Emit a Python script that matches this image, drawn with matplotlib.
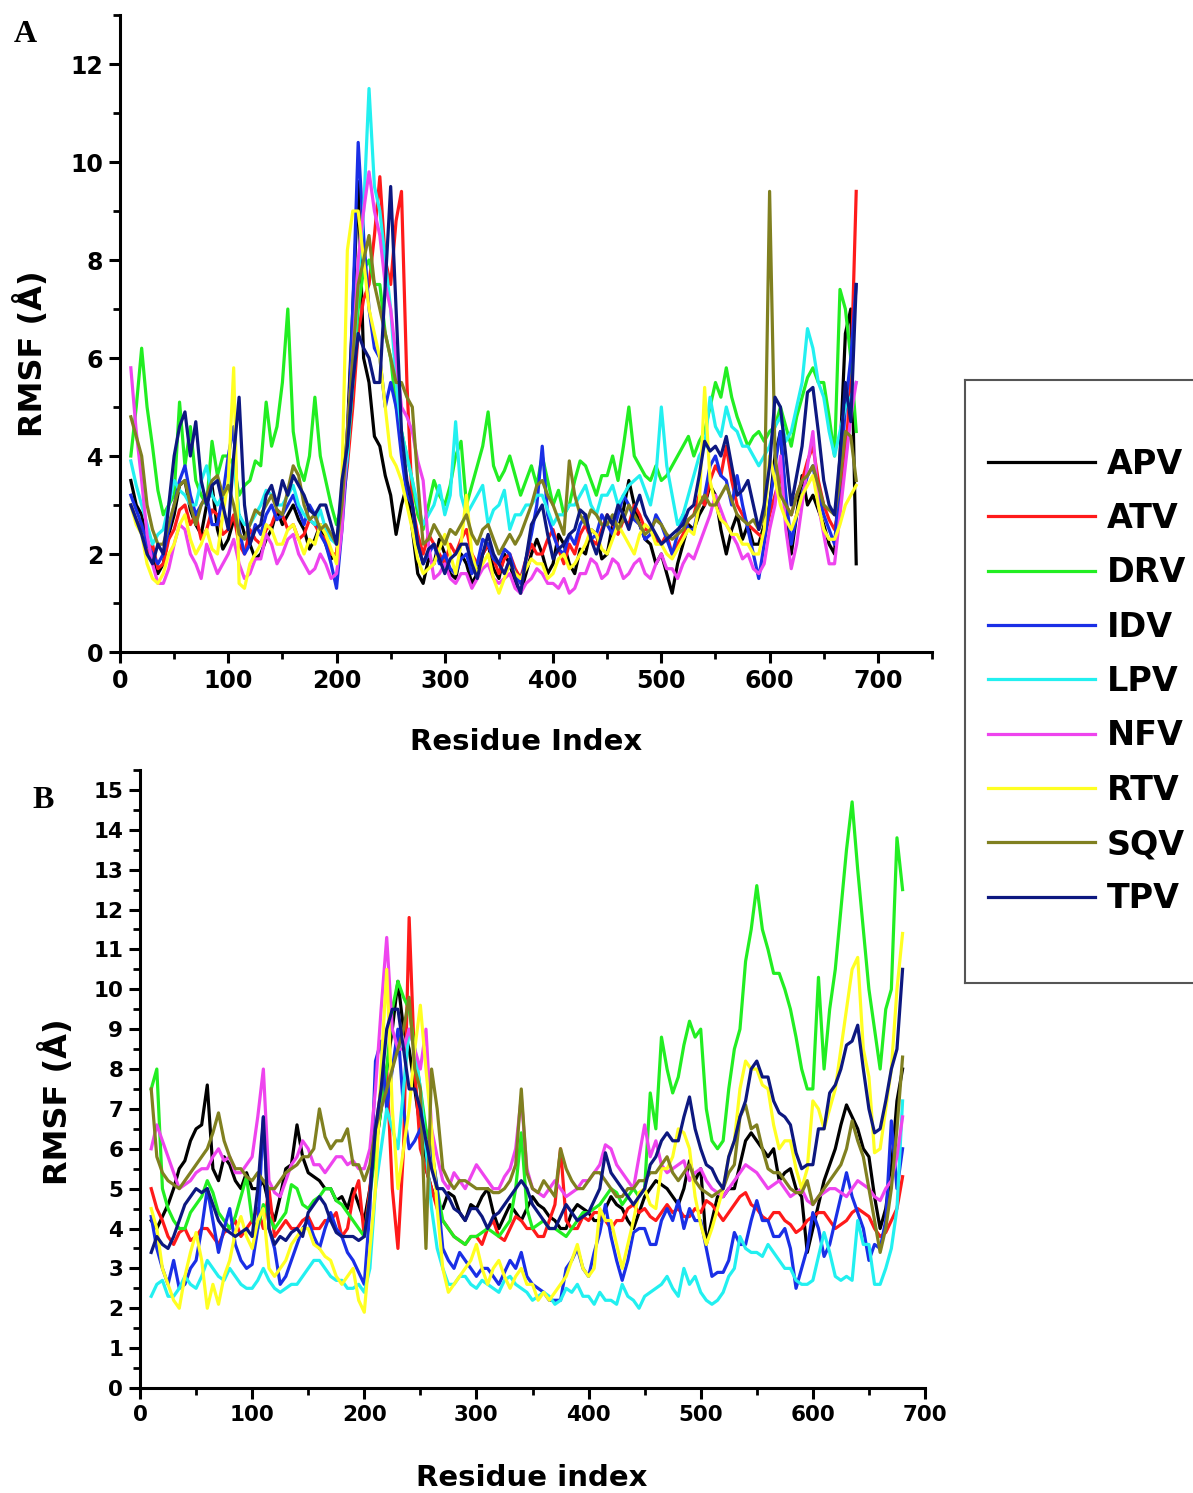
import numpy as np
import matplotlib
matplotlib.use("Agg")
import matplotlib.pyplot as plt
from matplotlib.ticker import MultipleLocator

plt.rcParams['font.family'] = ['DejaVu Sans']
plt.rcParams['font.weight'] = 'bold'

labels = ["APV", "ATV", "DRV", "IDV", "LPV", "NFV", "RTV", "SQV", "TPV"]
colors = ["#000000", "#ff1a1a", "#22ee22", "#1a2fe6", "#22f0f0",
          "#ee44ee", "#ffff22", "#808020", "#0d1880"]

residues = np.arange(10, 681, 5)   # 135 residue positions

# ---------------- Panel A (RMSF, Å) ----------------
A_APV = [3.5,3.0,2.8,2.2,2.0,1.6,1.8,2.4,2.8,3.4, 3.5,2.9,2.6,2.4,3.0,3.4,2.5,2.1,2.3,2.7,
         2.8,2.4,2.2,1.9,2.0,2.3,2.5,2.9,2.6,2.8, 3.0,2.7,2.5,2.1,2.3,2.6,2.2,1.9,2.0,2.8,
         4.5,7.0,9.6,6.0,5.5,4.4,4.2,3.6,3.2,2.4, 3.0,3.4,2.5,1.6,1.4,1.9,1.8,2.3,2.0,1.6,
         1.5,2.0,1.8,1.4,1.6,2.0,2.2,1.7,1.5,2.0, 1.8,1.4,1.2,1.6,2.0,2.3,2.0,1.6,1.8,2.4,
         2.2,1.8,1.6,2.1,2.0,2.5,2.4,1.9,2.0,2.6, 2.5,2.9,3.5,3.0,2.6,2.3,2.2,1.8,2.0,1.6,
         1.2,1.8,2.2,2.6,2.5,2.8,3.0,3.4,3.2,2.5, 2.0,2.5,2.8,2.3,2.6,2.2,2.2,2.6,3.0,4.0,
         4.5,3.0,2.0,2.8,3.6,3.0,3.2,2.9,2.6,2.2, 2.0,4.0,6.5,7.0,1.8]
A_ATV = [3.0,2.7,2.5,2.0,2.2,1.7,1.8,2.3,2.5,2.9, 3.0,2.6,2.8,2.3,2.5,2.9,2.8,2.4,2.5,2.8,
         2.2,2.0,2.5,2.3,2.2,2.5,2.6,2.9,2.8,2.5, 2.6,2.3,2.4,2.7,2.6,2.4,2.3,2.0,2.0,2.9,
         3.8,5.0,6.5,7.2,7.5,8.5,9.7,8.0,7.5,8.8, 9.4,5.5,3.0,2.4,2.0,2.4,2.2,2.0,1.8,2.2,
         2.0,2.3,2.5,2.0,1.8,2.0,2.2,1.9,1.6,1.9, 2.0,1.7,1.5,1.9,2.2,2.0,2.0,2.3,2.5,2.1,
         1.8,2.2,2.0,2.4,2.6,2.3,2.2,2.5,2.8,2.6, 2.4,2.7,2.6,3.0,2.8,2.5,2.5,2.3,2.2,2.4,
         2.0,2.2,2.4,2.7,2.8,3.2,3.0,3.5,3.8,3.6, 4.2,3.5,3.0,2.8,2.6,2.5,2.4,2.3,2.8,3.2,
         3.6,3.0,2.8,3.2,3.5,3.9,4.2,3.5,3.0,2.7, 2.5,3.0,4.0,5.5,9.4]
A_DRV = [4.0,5.0,6.2,5.0,4.2,3.3,2.8,3.0,3.2,5.1, 3.8,4.6,3.5,3.2,3.0,4.3,3.6,4.0,4.0,3.8,
         3.2,3.4,3.5,3.9,3.8,5.1,4.2,4.6,5.5,7.0, 4.5,3.8,3.5,4.0,5.2,4.0,3.5,3.0,2.6,3.0,
         4.0,5.5,7.0,7.8,8.0,7.5,7.5,6.5,6.0,5.0, 4.5,4.0,3.5,2.8,2.5,3.0,3.5,3.2,3.0,3.4,
         4.0,4.3,3.0,3.4,3.8,4.2,4.9,3.8,3.5,3.7, 4.0,3.6,3.2,3.5,3.8,3.4,4.0,3.5,3.0,3.3,
         2.8,3.0,3.5,3.9,3.8,3.5,3.2,3.6,3.6,4.0, 3.5,4.2,5.0,4.0,3.8,3.6,3.5,3.8,3.5,3.6,
         3.8,4.0,4.2,4.4,4.0,4.3,4.5,5.0,5.5,5.2, 5.8,5.2,4.8,4.5,4.2,4.4,4.5,4.3,4.5,4.6,
         5.0,4.6,4.2,4.8,5.2,5.6,5.8,5.5,5.5,4.8, 4.0,7.4,7.0,6.0,4.5]
A_IDV = [3.2,2.9,2.6,2.2,2.0,1.8,2.0,2.5,3.0,3.5, 3.8,3.2,2.8,3.0,3.2,2.6,2.6,3.2,4.0,4.6,
         2.5,2.0,2.2,2.6,2.4,2.8,3.0,2.7,2.8,3.0, 3.2,2.9,2.6,3.0,2.8,2.4,2.2,1.8,1.3,2.5,
         4.0,7.0,10.4,8.5,7.0,6.2,6.0,5.0,5.5,5.0, 4.0,3.2,3.0,2.2,1.8,2.0,2.2,1.8,2.0,1.7,
         1.6,1.9,2.0,1.6,1.8,2.3,2.2,1.9,1.8,2.1, 2.0,1.6,1.4,1.9,2.4,3.0,4.2,2.8,2.4,2.1,
         2.0,2.4,2.2,2.6,2.8,2.3,2.4,2.8,2.6,2.4, 2.8,3.2,3.0,2.7,2.6,2.3,2.4,2.8,2.6,2.3,
         2.0,2.4,2.8,2.5,2.5,3.0,3.2,3.8,4.0,3.6, 3.5,3.0,3.6,3.0,2.5,2.0,1.5,2.2,3.0,3.8,
         4.5,3.2,2.2,2.8,3.2,3.6,3.8,3.2,2.8,2.5, 2.2,3.5,5.0,6.0,7.5]
A_LPV = [3.9,3.4,3.0,2.6,2.2,2.4,2.5,3.0,3.5,3.3, 3.2,3.0,3.0,3.5,3.8,3.2,3.0,3.2,3.4,3.9,
         2.8,2.6,2.6,2.8,3.0,3.3,3.2,3.0,3.0,3.2, 3.4,3.0,2.8,2.7,2.6,2.9,2.5,2.3,2.2,3.0,
         4.0,5.5,7.5,9.0,11.5,9.5,9.0,8.0,7.0,5.5, 4.5,4.0,3.5,3.0,2.6,2.8,3.0,3.4,2.8,3.2,
         4.7,3.2,2.8,3.0,3.2,3.4,2.6,2.9,3.0,3.3, 2.5,2.8,2.8,3.0,3.0,3.2,3.2,2.9,2.6,2.8,
         2.8,3.0,3.0,3.2,3.4,3.0,2.8,3.2,3.2,3.4, 3.0,3.2,3.4,3.5,3.6,3.3,3.0,3.6,5.0,3.8,
         3.2,2.6,2.8,3.2,3.6,4.0,4.2,5.2,4.6,4.4, 5.0,4.6,4.5,4.2,4.2,4.0,3.8,4.0,4.2,4.6,
         4.8,4.3,4.5,5.0,5.5,6.6,6.2,5.5,5.2,4.5, 4.0,4.5,5.0,5.2,5.5]
A_NFV = [5.8,4.5,3.5,2.4,1.8,1.4,1.4,1.7,2.2,2.6, 2.5,2.0,1.8,1.5,2.2,1.9,1.6,1.8,2.0,2.3,
         1.8,1.5,1.6,1.9,1.9,2.4,2.2,1.8,2.0,2.3, 2.4,2.0,1.8,1.6,1.7,2.0,1.8,1.5,1.6,2.5,
         4.5,6.0,8.0,9.0,9.8,9.0,8.5,7.5,7.0,6.0, 5.0,4.8,4.5,3.9,3.5,2.2,1.5,1.6,1.8,1.5,
         1.4,1.6,1.6,1.3,1.5,1.7,1.8,1.5,1.4,1.5, 1.6,1.3,1.2,1.4,1.5,1.7,1.6,1.4,1.4,1.3,
         1.5,1.2,1.3,1.6,1.6,1.9,1.8,1.5,1.6,1.9, 1.8,1.5,1.6,1.8,1.9,1.6,1.5,1.8,2.0,1.7,
         1.7,1.5,1.8,2.0,1.9,2.2,2.5,2.8,3.2,2.9, 2.6,2.4,2.2,1.9,2.0,1.7,1.6,1.8,2.5,3.0,
         4.0,2.5,1.7,2.2,3.0,3.8,4.5,3.0,2.4,1.8, 1.8,2.8,3.8,4.8,5.5]
A_RTV = [3.0,2.6,2.4,1.8,1.5,1.4,1.6,2.0,2.2,2.6, 2.8,2.3,2.0,2.2,2.5,2.1,2.0,2.8,3.5,5.8,
         1.4,1.3,1.8,2.0,2.2,2.6,2.5,2.2,2.2,2.5, 2.6,2.3,2.0,2.3,2.2,2.6,2.4,2.1,1.8,3.5,
         8.2,9.0,9.0,8.0,7.0,6.5,6.0,5.0,4.0,3.8, 3.5,3.0,2.5,1.9,1.6,1.7,1.8,2.1,2.4,2.0,
         1.6,2.2,3.2,2.0,1.6,1.8,2.0,1.5,1.2,1.5, 1.8,1.6,1.5,1.7,1.9,1.8,1.8,1.5,1.6,1.9,
         2.0,1.7,1.8,2.0,2.2,2.5,2.4,2.1,2.0,2.3, 2.6,2.4,2.2,2.0,2.4,2.6,2.5,2.2,2.2,2.0,
         1.9,2.1,2.3,2.5,2.4,3.0,5.4,3.5,3.0,2.7, 2.6,2.4,2.4,2.2,2.2,2.0,2.0,2.5,4.0,3.5,
         3.0,2.7,2.5,2.8,3.2,3.4,3.6,3.0,2.5,2.3, 2.3,2.6,3.0,3.2,3.4]
A_SQV = [4.8,4.4,4.0,3.0,2.5,2.2,2.2,2.6,3.0,3.4, 3.5,3.0,2.6,3.0,3.2,3.5,3.6,3.2,3.4,3.0,
         2.4,2.3,2.6,2.9,2.8,3.0,3.2,2.9,2.8,3.3, 3.8,3.6,3.0,2.7,2.8,2.5,2.6,2.4,2.2,3.0,
         4.5,6.0,7.5,8.0,8.5,7.5,7.0,6.5,6.0,5.5, 5.5,5.2,5.0,3.5,2.2,2.3,2.6,2.4,2.2,2.5,
         2.4,2.6,2.8,2.4,2.2,2.5,2.6,2.3,2.0,2.2, 2.4,2.2,2.4,2.7,3.0,3.4,3.5,3.2,3.0,2.7,
         2.4,3.9,3.2,2.8,2.6,2.9,2.8,2.6,2.6,2.8, 2.5,2.7,3.0,2.8,2.6,2.4,2.5,2.7,2.6,2.4,
         2.3,2.4,2.5,2.7,2.8,3.0,3.2,3.0,3.0,3.2, 3.4,3.1,2.8,2.7,2.6,2.7,2.5,2.8,9.4,4.0,
         3.2,3.0,2.8,3.2,3.5,3.6,3.8,3.4,3.0,2.9, 2.8,3.5,4.5,4.4,3.5]
A_TPV = [3.0,2.7,2.4,2.0,1.8,2.2,2.0,3.0,4.0,4.6, 4.9,4.0,4.7,3.5,3.0,3.4,3.5,3.0,2.5,4.0,
         5.2,3.0,2.2,2.5,2.6,3.2,3.4,3.0,3.5,3.2, 3.6,3.4,3.2,2.9,2.8,3.0,3.0,2.6,2.2,3.5,
         4.2,5.5,6.5,6.2,6.0,5.5,5.5,7.5,9.5,7.0, 4.5,3.5,3.0,2.2,1.8,2.1,2.2,1.9,1.6,1.9,
         2.0,2.2,2.2,1.8,1.5,2.0,2.4,2.0,1.8,1.6, 1.9,1.5,1.2,1.9,2.6,2.8,3.0,2.4,1.9,2.1,
         2.2,2.4,2.5,2.9,2.8,2.3,2.0,2.4,2.8,2.6, 3.0,2.8,2.5,2.9,3.2,2.8,2.6,2.4,2.2,2.3,
         2.4,2.5,2.6,2.9,3.0,3.6,4.3,4.1,4.2,4.0, 4.4,3.8,3.2,3.3,3.5,3.0,2.5,3.0,3.8,5.2,
         5.0,4.0,3.0,3.6,4.2,5.3,5.4,4.5,3.5,3.0, 2.8,4.0,5.5,4.7,7.5]

# ---------------- Panel B (RMSF, Å) ----------------
B_APV = [4.2,4.0,4.3,4.6,5.0,5.5,5.7,6.2,6.5,6.6, 7.6,5.5,5.2,5.8,5.6,5.2,5.0,5.4,5.0,5.0,
         5.2,4.6,4.2,4.8,5.5,5.6,6.6,5.8,5.4,5.3, 5.2,5.0,5.0,4.7,4.8,4.5,5.0,4.6,4.2,5.0,
         6.0,7.0,8.0,9.0,10.2,9.0,8.5,7.5,6.5,5.5, 5.0,4.6,4.5,4.9,4.8,4.4,4.2,4.6,4.5,4.8,
         5.0,4.4,4.0,4.3,4.6,4.4,4.2,4.5,4.8,4.6, 4.5,4.3,4.2,4.0,4.0,4.4,4.6,4.5,4.4,4.2,
         4.2,4.5,4.8,4.6,4.5,4.2,4.0,4.4,4.8,5.0, 5.2,5.1,5.0,4.8,4.6,5.0,5.7,5.2,5.5,3.6,
         4.2,4.8,4.8,5.0,5.0,5.6,6.2,6.4,6.2,6.0, 5.8,6.0,5.2,5.4,5.5,5.0,4.8,3.4,4.0,4.6,
         5.2,5.6,6.0,6.6,7.1,6.8,6.5,6.0,5.8,4.8, 4.0,4.5,5.5,7.2,8.0]
B_ATV = [5.0,4.5,4.2,3.8,3.6,3.9,4.0,3.7,3.8,4.0, 4.0,3.8,3.6,3.9,4.0,4.2,3.8,4.0,4.2,4.5,
         4.0,5.0,3.8,4.0,4.2,4.0,4.0,4.2,4.3,4.0, 4.0,4.2,4.2,4.4,3.8,4.0,4.8,5.2,3.8,5.0,
         6.5,7.5,8.0,5.0,3.5,6.0,11.8,8.0,6.0,5.5, 5.0,4.5,4.2,4.0,3.8,3.7,3.6,3.8,3.8,3.6,
         4.0,4.2,3.8,3.7,4.0,4.3,4.2,4.0,4.0,3.8, 3.8,4.2,4.6,6.0,4.2,4.0,4.0,4.3,4.2,4.4,
         4.4,4.2,4.0,4.2,4.2,4.5,4.6,4.4,4.5,4.3, 4.2,4.4,4.6,4.4,4.5,4.3,4.3,4.5,4.4,4.7,
         4.6,4.4,4.2,4.4,4.6,4.8,4.9,4.6,4.5,4.3, 4.2,4.4,4.4,4.2,4.1,3.9,4.0,4.2,4.3,4.4,
         4.4,4.2,4.0,4.1,4.2,4.4,4.5,4.4,4.3,4.0, 3.8,3.9,4.2,4.5,5.3]
B_DRV = [7.5,8.0,5.0,4.5,4.2,4.0,4.0,4.4,4.6,4.8, 5.2,4.9,4.4,4.2,4.0,4.3,4.8,5.3,4.2,4.0,
         4.6,4.3,4.0,4.2,4.4,5.1,5.0,4.6,4.5,4.7, 4.8,5.0,5.0,4.7,4.6,4.4,4.2,4.0,3.8,4.8,
         6.0,7.0,8.0,9.5,10.2,9.8,9.5,8.5,7.5,6.5, 6.0,5.0,4.2,4.0,3.8,3.7,3.6,3.8,3.8,3.9,
         4.0,3.9,3.8,4.0,4.2,5.0,6.4,4.5,4.0,4.1, 4.2,4.0,4.0,3.9,3.8,4.0,4.2,4.4,4.4,4.5,
         4.6,4.8,5.0,4.9,4.6,4.8,5.0,4.8,5.0,7.4, 6.5,8.8,8.0,7.4,7.8,8.6,9.2,8.8,9.0,7.0,
         6.2,6.0,6.2,7.5,8.5,9.0,10.7,11.5,12.6,11.5, 11.0,10.4,10.4,10.0,9.5,8.8,8.0,7.5,7.5,10.3,
         8.0,9.5,10.5,12.0,13.5,14.7,13.0,11.5,10.0,9.0, 8.0,9.5,10.0,13.8,12.5]
B_IDV = [4.3,3.5,3.0,2.6,3.2,2.5,2.6,3.0,3.2,4.0, 5.0,4.2,3.4,4.0,4.5,3.6,3.2,3.0,3.1,4.0,
         6.8,4.0,3.5,2.6,2.8,3.2,3.6,4.0,4.2,3.8, 3.5,4.0,4.4,4.0,3.8,3.4,3.2,2.9,2.6,4.5,
         8.2,8.7,7.0,8.0,9.0,7.0,6.0,6.2,6.5,6.2, 6.0,5.0,3.5,3.2,3.0,3.4,3.2,3.0,2.8,3.0,
         3.0,2.8,2.6,2.9,3.2,3.0,3.4,2.8,2.6,2.5, 2.4,2.2,2.2,2.2,3.0,3.2,3.5,3.0,2.8,3.4,
         3.9,4.6,3.8,3.2,2.7,3.2,3.9,4.0,4.0,3.6, 3.6,4.2,4.5,4.2,4.7,4.0,4.5,4.2,4.2,3.5,
         2.8,2.9,2.9,3.2,3.9,3.6,3.6,4.2,4.7,4.2, 4.2,3.8,3.8,4.0,3.5,2.5,3.0,3.5,4.4,4.0,
         3.3,3.6,4.2,4.8,5.4,4.8,4.4,4.0,3.2,3.6, 3.5,4.2,6.7,5.0,6.0]
B_LPV = [2.3,2.6,2.7,2.3,2.3,2.5,2.8,2.6,2.5,2.8, 3.2,3.0,2.8,2.7,3.0,2.8,2.6,2.5,2.5,2.7,
         3.0,2.7,2.5,2.4,2.5,2.6,2.6,2.8,3.0,3.2, 3.2,3.0,2.8,2.7,2.7,2.5,2.5,2.6,2.4,3.0,
         5.0,6.0,7.0,6.5,6.0,7.5,9.0,8.5,7.5,6.0, 4.5,3.5,3.0,2.6,2.6,2.8,2.8,2.6,2.5,2.7,
         2.6,2.5,2.4,2.7,2.8,2.6,2.5,2.4,2.2,2.3, 2.4,2.3,2.1,2.2,2.5,2.4,2.6,2.3,2.3,2.1,
         2.4,2.2,2.2,2.1,2.6,2.3,2.2,2.0,2.3,2.4, 2.5,2.6,2.8,2.5,2.3,3.0,2.6,2.8,2.4,2.2,
         2.1,2.2,2.4,2.8,3.0,3.8,3.5,3.4,3.4,3.3, 3.6,3.4,3.2,3.0,3.0,2.7,2.6,2.6,2.7,3.3,
         3.9,3.4,2.8,2.7,2.8,2.7,4.2,3.6,3.6,2.6, 2.6,3.0,3.5,4.5,7.2]
B_NFV = [6.0,6.6,6.2,5.8,5.4,5.0,5.1,5.2,5.4,5.5, 5.5,5.8,6.0,5.7,5.8,5.4,5.4,5.6,5.8,6.8,
         8.0,5.2,4.9,4.8,5.2,5.6,5.8,6.2,6.0,5.6, 5.6,5.4,5.6,5.8,5.8,5.6,5.7,5.5,5.5,6.0,
         7.5,9.5,11.3,9.0,8.5,8.5,9.0,8.5,8.0,9.0, 6.5,5.8,5.2,5.0,5.4,5.2,5.0,5.3,5.6,5.4,
         5.2,5.0,5.0,5.3,5.5,6.0,7.3,5.5,5.0,4.9, 4.8,5.0,5.2,5.0,4.8,4.9,5.0,5.2,5.2,5.4,
         5.6,6.1,6.0,5.6,5.4,5.2,5.0,5.8,6.6,5.8, 6.2,5.6,5.4,5.5,5.6,5.7,5.2,5.4,5.5,5.2,
         5.0,4.9,4.8,5.0,5.2,5.4,5.6,5.5,5.4,5.2, 5.0,5.1,5.2,5.0,4.8,4.9,5.0,4.7,4.6,4.8,
         4.9,5.0,5.0,4.9,4.8,5.0,5.2,5.1,5.0,4.8, 4.7,5.0,5.2,5.8,6.8]
B_RTV = [4.5,4.0,3.0,2.6,2.2,2.0,2.8,3.4,3.9,3.2, 2.0,2.6,2.1,2.8,3.2,3.9,4.3,3.8,3.5,4.2,
         4.5,3.0,2.8,3.0,3.2,3.6,3.8,4.0,4.0,3.6, 3.5,3.3,3.2,2.8,2.6,2.8,3.0,2.2,1.9,3.5,
         5.0,8.0,10.5,7.0,5.0,6.0,7.0,8.5,9.6,8.0, 6.5,4.5,3.0,2.4,2.6,2.8,3.0,3.2,3.6,3.0,
         2.6,3.0,3.2,2.8,2.5,2.8,3.0,2.6,2.6,2.2, 2.4,2.2,2.4,2.6,2.8,3.2,3.6,3.0,2.8,3.0,
         4.5,4.2,4.2,3.6,3.0,3.6,4.2,4.9,5.0,4.6, 4.5,5.5,5.5,5.8,6.5,6.4,6.0,4.8,4.1,3.6,
         4.0,4.5,5.0,5.8,6.2,7.5,8.2,8.0,8.0,7.6, 7.5,6.6,6.0,6.2,6.2,5.5,5.0,5.5,7.2,7.0,
         6.5,7.0,7.5,8.5,9.5,10.5,10.8,8.5,7.8,5.9, 6.0,7.0,8.0,10.0,11.4]
B_SQV = [7.5,5.8,5.4,5.2,5.1,5.0,5.2,5.4,5.6,5.8, 6.0,6.4,6.9,6.2,5.8,5.5,5.5,5.3,5.2,5.4,
         5.2,5.0,5.0,5.2,5.4,5.5,5.6,5.8,5.8,6.0, 7.0,6.3,6.0,6.2,6.2,6.5,5.6,5.6,5.2,5.6,
         6.5,7.0,7.5,8.0,8.5,9.0,9.8,8.0,7.5,3.5, 8.0,7.0,5.5,5.2,5.0,5.2,5.2,5.1,5.0,5.0,
         5.0,4.9,4.9,5.0,5.2,5.6,7.5,5.4,5.0,4.9, 5.2,5.0,4.8,6.0,5.5,5.2,5.0,5.0,5.2,5.4,
         5.4,5.2,5.0,4.8,4.8,5.0,5.0,5.2,5.2,5.4, 5.4,5.6,5.8,5.4,5.2,5.4,5.6,5.2,5.0,4.9,
         4.8,4.9,5.0,5.4,5.6,6.8,7.1,6.5,6.6,6.0, 5.5,5.4,5.4,5.2,5.0,4.9,4.9,5.2,4.6,4.8,
         5.0,5.2,5.4,5.6,6.0,6.7,6.2,5.8,5.0,4.2, 3.4,4.0,5.0,6.5,8.3]
B_TPV = [3.4,3.8,3.6,3.5,3.8,4.2,4.6,4.8,5.0,4.9, 5.0,4.6,4.2,4.0,3.9,3.8,3.9,4.0,3.8,5.0,
         6.8,4.0,3.6,3.8,3.7,3.9,4.0,3.8,4.4,4.6, 4.8,4.6,4.2,3.9,3.8,3.8,3.8,3.7,3.8,4.8,
         6.5,7.5,9.0,9.5,9.5,8.5,7.5,7.5,7.0,6.2, 5.5,5.0,5.0,4.8,4.5,4.4,4.2,4.5,4.5,4.3,
         4.0,4.3,4.4,4.6,4.8,5.0,5.2,5.0,4.6,4.4, 4.2,4.0,4.0,4.3,4.6,4.4,4.2,4.3,4.4,4.7,
         5.0,5.9,5.4,5.2,5.0,4.8,4.6,4.8,5.0,5.6, 5.8,6.2,6.4,6.2,6.2,6.8,7.3,6.5,6.0,5.6,
         5.5,5.2,5.0,5.8,6.2,6.8,7.2,8.0,8.2,7.8, 7.8,7.2,6.9,6.8,6.6,5.9,5.5,5.6,5.6,6.5,
         6.5,7.4,7.6,8.0,8.6,8.7,9.1,8.0,7.0,6.4, 6.5,7.2,8.0,8.5,10.5]

panelA = [A_APV, A_ATV, A_DRV, A_IDV, A_LPV, A_NFV, A_RTV, A_SQV, A_TPV]
panelB = [B_APV, B_ATV, B_DRV, B_IDV, B_LPV, B_NFV, B_RTV, B_SQV, B_TPV]

W, H = 1193, 1493
fig = plt.figure(figsize=(W / 100, H / 100), dpi=100)


def ax_rect(l, t, r, b):
    return [l / W, 1 - b / H, (r - l) / W, (b - t) / H]


def style(ax, xmaj, xmin, ymaj, ymin, fs):
    for s in ["top", "right"]:
        ax.spines[s].set_visible(False)
    for s in ["left", "bottom"]:
        ax.spines[s].set_linewidth(2.2)
    ax.xaxis.set_major_locator(MultipleLocator(xmaj))
    ax.xaxis.set_minor_locator(MultipleLocator(xmin))
    ax.yaxis.set_major_locator(MultipleLocator(ymaj))
    ax.yaxis.set_minor_locator(MultipleLocator(ymin))
    ax.tick_params(which="major", direction="out", length=8, width=2.2,
                   labelsize=fs, pad=4)
    ax.tick_params(which="minor", direction="out", length=5, width=2.0)
    for lab in ax.get_xticklabels() + ax.get_yticklabels():
        lab.set_fontweight("bold")


def series_xy(vals):
    n = min(len(residues), len(vals))
    return residues[:n], vals[:n]


# Panel A
axA = fig.add_axes(ax_rect(120, 15, 932, 652))
handles = []
for vals, c, lab in zip(panelA, colors, labels):
    x, y = series_xy(vals)
    h, = axA.plot(x, y, color=c, lw=2.3, label=lab)
    handles.append(h)
axA.set_xlim(0, 750)
axA.set_ylim(0, 13)
style(axA, 100, 50, 2, 1, 17)
axA.set_xticks(np.arange(0, 701, 100))
axA.set_xlabel("Residue Index", fontsize=21, fontweight="bold")
axA.set_ylabel("RMSF (Å)", fontsize=23, fontweight="bold")
axA.xaxis.set_label_coords(0.5, -0.119)
axA.yaxis.set_label_coords(-0.088, 0.468)
fig.text(14 / W, 1 - 35 / H, "A", fontsize=23, fontweight="bold",
         family="Liberation Serif", va="center", ha="left")

# Panel B
axB = fig.add_axes(ax_rect(140, 770, 925, 1388))
for vals, c, lab in zip(panelB, colors, labels):
    x, y = series_xy(vals)
    axB.plot(x, y, color=c, lw=2.3, label=lab)
axB.set_xlim(0, 700)
axB.set_ylim(0, 15.5)
style(axB, 100, 50, 1, 0.5, 15.5)
axB.set_yticks(np.arange(0, 16, 1))
axB.set_xlabel("Residue index", fontsize=21, fontweight="bold")
axB.set_ylabel("RMSF (Å)", fontsize=23, fontweight="bold")
axB.xaxis.set_label_coords(0.499, -0.123)
axB.yaxis.set_label_coords(-0.084, 0.463)
fig.text(32 / W, 1 - 800 / H, "B", fontsize=23, fontweight="bold",
         family="Liberation Serif", va="center", ha="left")

# Legend box
axL = fig.add_axes(ax_rect(965, 380, 1200, 983))
axL.set_xticks([])
axL.set_yticks([])
for s in axL.spines.values():
    s.set_edgecolor("#555555")
    s.set_linewidth(1.5)
axL.legend(handles=handles, loc="center left", frameon=False,
           handlelength=3.2, labelspacing=0.64,
           handletextpad=0.35, borderaxespad=0.3,
           prop={"weight": "bold", "size": 24, "family": "DejaVu Sans"})

fig.savefig("out.png", dpi=100)
